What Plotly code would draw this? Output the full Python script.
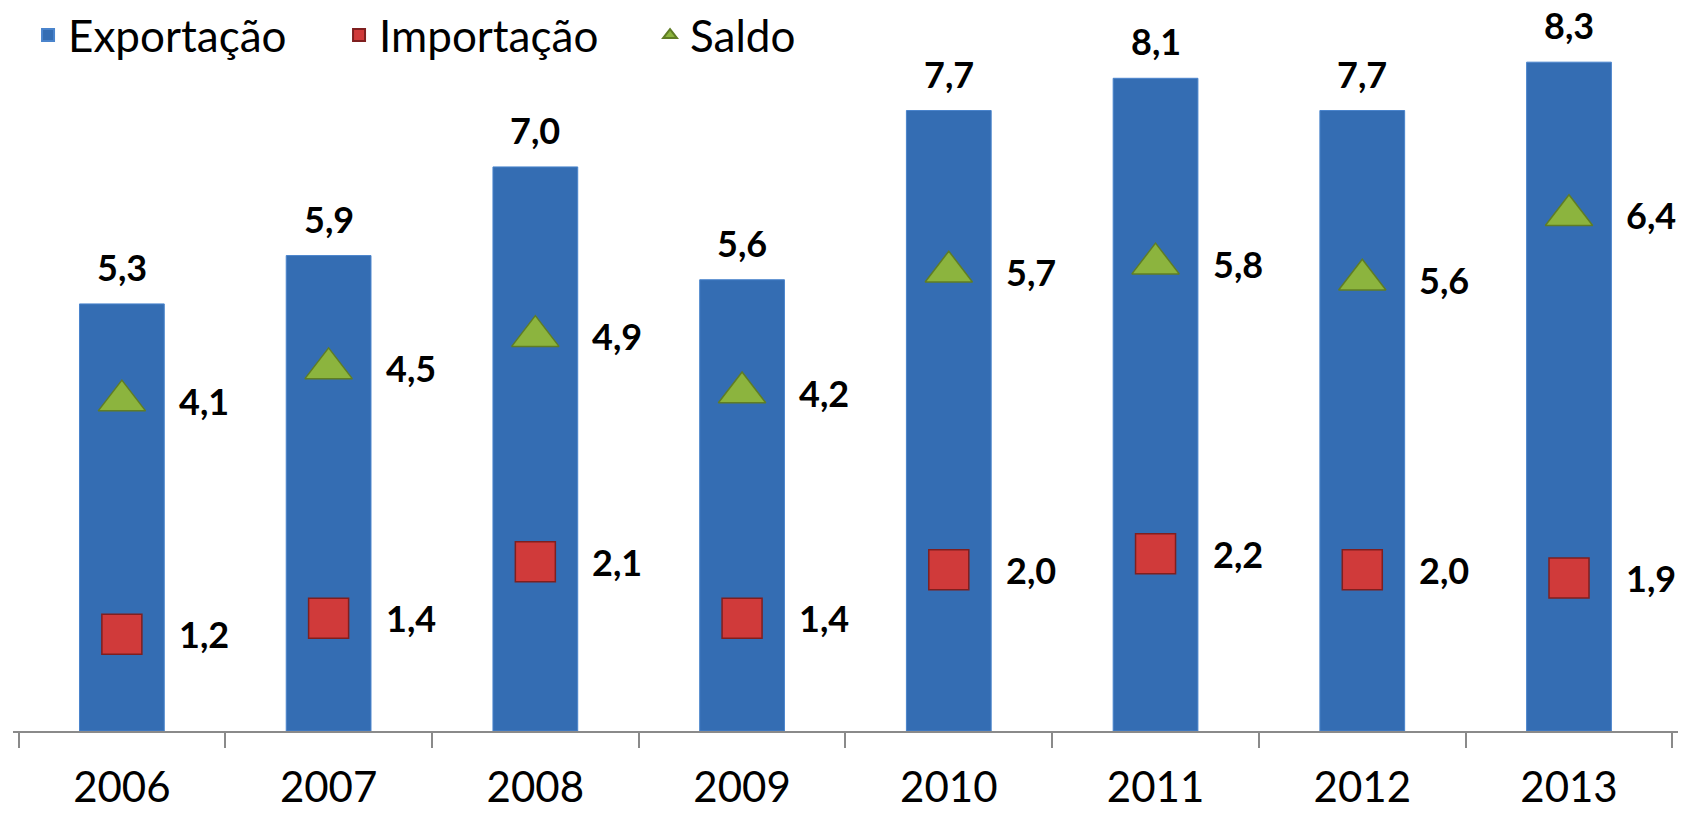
import plotly.graph_objects as go

years = ["2006", "2007", "2008", "2009", "2010", "2011", "2012", "2013"]
exportacao = [5.3, 5.9, 7.0, 5.6, 7.7, 8.1, 7.7, 8.3]
importacao = [1.2, 1.4, 2.1, 1.4, 2.0, 2.2, 2.0, 1.9]
saldo = [4.1, 4.5, 4.9, 4.2, 5.7, 5.8, 5.6, 6.4]


def fmt(v):
    return f"{v:.1f}".replace(".", ",")


FONT = "Lato, 'Open Sans', sans-serif"

fig = go.Figure()
fig.add_trace(go.Bar(
    x=years, y=exportacao, name="Exportação",
    marker=dict(color="#346DB3", line=dict(color="#4A84CC", width=1)),
))
fig.add_trace(go.Scatter(
    x=years, y=importacao, name="Importação", mode="markers",
    marker=dict(symbol="square", size=40, color="#D03A3A",
                line=dict(color="#7F1F1F", width=1.5)),
))
fig.add_trace(go.Scatter(
    x=years, y=saldo, name="Saldo", mode="markers",
    marker=dict(symbol="triangle-up", size=41, color="#8CB43E",
                line=dict(color="#5F7D25", width=1.5)),
))

annotations = []
# category axis: annotation x is the category index
for i, v in enumerate(exportacao):
    annotations.append(dict(x=i, y=v, xref="x", yref="y", text=fmt(v),
                            showarrow=False, yanchor="middle", yshift=37,
                            font=dict(family=FONT, size=36, color="black", weight="bold")))
for series in (importacao, saldo):
    for i, v in enumerate(series):
        annotations.append(dict(x=i, y=v, xref="x", yref="y", text=fmt(v),
                                showarrow=False, xanchor="left", yanchor="middle",
                                xshift=55,
                                font=dict(family=FONT, size=36, color="black", weight="bold")))

fig.update_layout(
    width=1689, height=813,
    margin=dict(l=13, r=11, t=38, b=82, autoexpand=False),
    plot_bgcolor="white", paper_bgcolor="white",
    bargap=0.59,
    showlegend=True,
    legend=dict(orientation="h", x=0.0166, xanchor="left", y=1.0, yanchor="top",
                yref="container", xref="container",
                font=dict(family=FONT, size=44, color="black"),
                entrywidth=266, bgcolor="rgba(0,0,0,0)", itemsizing="constant",
                borderwidth=0, tracegroupgap=0),
    annotations=annotations,
    font=dict(family=FONT),
)
fig.update_xaxes(type="category", showline=True, linecolor="#8A8A8A", linewidth=2,
                 ticks="outside", tickson="boundaries", ticklen=15, tickcolor="#8A8A8A",
                 tickwidth=2, showgrid=False, tickangle=0, ticklabelstandoff=19,
                 tickfont=dict(family=FONT, size=42, color="black"))
fig.update_yaxes(range=[0, 8.6], visible=False, showgrid=False, zeroline=False)

fig.write_html("out.html", config={"displayModeBar": False},
               post_script="document.body.style.margin='0';")
